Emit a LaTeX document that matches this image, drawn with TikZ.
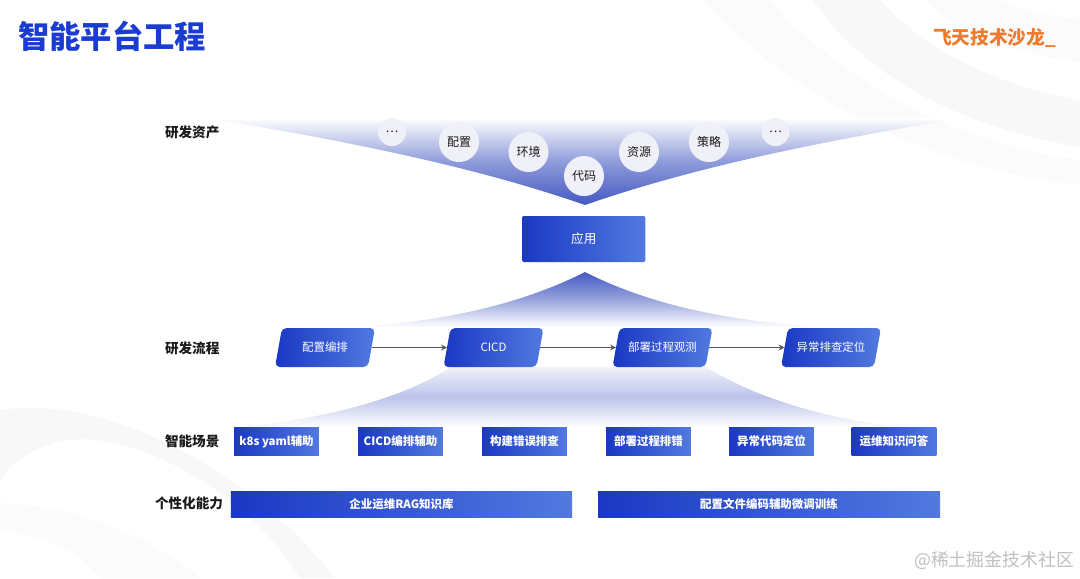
\documentclass[tikz,border=0pt]{standalone}
\usepackage{fontspec}
\setmainfont{Noto Sans CJK SC}
\definecolor{brandblue}{HTML}{1A38C4}
\definecolor{brandlight}{HTML}{5279E0}
\definecolor{funnelblue}{HTML}{4459C2}
\definecolor{titleblue}{HTML}{1A3CD0}
\definecolor{logoorange}{HTML}{EE7A2E}
\definecolor{labelink}{HTML}{1A1A1A}
\definecolor{flowgrey}{HTML}{555555}
\definecolor{bubblefill}{HTML}{F0F1F8}
\definecolor{swooshgrey}{HTML}{FBFBFB}
\definecolor{swooshdark}{HTML}{F8F8F8}

\begin{document}
\begin{tikzpicture}[x=0.75pt, y=-0.75pt, >=stealth,
    every node/.style={inner sep=0pt, outer sep=0pt},
    rowlabel/.style={text=labelink, font=\fontsize{10.2}{12}\selectfont\bfseries},
    bubble/.style={circle, fill=bubblefill, text=labelink, minimum size=30pt, font=\fontsize{9}{11}\selectfont},
    smallbubble/.style={bubble, minimum size=21pt},
    bluebox/.style={left color=brandblue, right color=brandlight, text=white, text height=6.6pt, text depth=0pt,
      font=\fontsize{8.6}{11}\selectfont\bfseries},
    appbox/.style={bluebox, rounded corners=1.5pt, minimum width=92.6pt, minimum height=34.5pt, font=\fontsize{9.5}{11}\selectfont},
    flowshape/.style={left color=brandblue, right color=brandlight, rounded corners=3.5pt},
    flowbox/.style={text=white, text height=6.6pt, text depth=0pt, minimum width=69.75pt, minimum height=29.2pt,
      font=\fontsize{8.6}{11}\selectfont},
    scenebox/.style={bluebox, minimum width=63.5pt, minimum height=21pt},
    abilitybox/.style={bluebox, minimum height=20.2pt},
    flowline/.style={flowgrey, line width=1pt, ->}]

  \useasboundingbox (0,0) rectangle (1080,578);

  %% background swooshes
  \fill[swooshgrey] (703,0) .. controls (770,75) and (900,165) .. (1080,185) -- (1080,160)
    .. controls (930,140) and (820,60) .. (770,0) -- cycle;
  \fill[swooshdark] (813,0) .. controls (860,70) and (950,125) .. (1080,147) -- (1080,100)
    .. controls (990,85) and (920,45) .. (880,0) -- cycle;
  \fill[swooshgrey] (925,0) .. controls (960,35) and (1020,55) .. (1080,62) -- (1080,20)
    .. controls (1050,15) and (1020,10) .. (1000,0) -- cycle;
  \fill[swooshdark] (0,410) .. controls (100,395) and (240,460) .. (335,578) -- (300,578)
    .. controls (240,480) and (110,420) .. (50,445) .. controls (30,450) and (10,465) .. (0,480) -- cycle;
  \fill[swooshgrey] (0,503) .. controls (70,505) and (150,535) .. (200,578) -- (100,578)
    .. controls (80,550) and (40,535) .. (0,530) -- cycle;

  %% title and logo
  \node[text=titleblue, font=\fontsize{23.5}{26}\selectfont\bfseries, anchor=west] (title) at (18,36) {智能平台工程};
  \node[text=logoorange, font=\fontsize{14}{16}\selectfont\bfseries, anchor=west] (logo) at (933,38) {飞天技术沙龙\_};
  \node[text=gray!50, font=\fontsize{13.4}{15}\selectfont, anchor=east] (mark) at (1074,560) {@稀土掘金技术社区};

  %% funnels
  \shade[top color=white, bottom color=funnelblue, middle color=funnelblue!60]
    (208,118) .. controls (340,140) and (470,165) .. (585,205)
    .. controls (700,165) and (830,140) .. (962,118) -- cycle;
  \shade[top color=funnelblue, bottom color=white, middle color=funnelblue!55]
    (585,272) .. controls (520,305) and (440,322) .. (354,327) -- (828,327)
    .. controls (730,322) and (650,305) .. (585,272) -- cycle;
  \shade[top color=funnelblue!8, bottom color=white, middle color=funnelblue!36]
    (451,367) .. controls (400,400) and (320,420) .. (237,427) -- (905,427)
    .. controls (830,420) and (760,400) .. (706,367) -- cycle;

  %% row labels
  \node[rowlabel, anchor=west] (assetlabel) at (165,132) {研发资产};
  \node[rowlabel, anchor=west] (flowlabel) at (165,348) {研发流程};
  \node[rowlabel, anchor=west] (scenelabel) at (165,441) {智能场景};
  \node[rowlabel, anchor=west] (abilitylabel) at (155,503) {个性化能力};

  %% assets
  \node[smallbubble] (etcleft) at (392,132) {…};
  \node[bubble] (config) at (459,142) {配置};
  \node[bubble] (env) at (528.5,152) {环境};
  \node[bubble] (code) at (584,176) {代码};
  \node[bubble] (resource) at (639,152) {资源};
  \node[bubble] (policy) at (709,142) {策略};
  \node[smallbubble] (etcright) at (775.5,132) {…};

  \node[appbox] (app) at (583.75,239) {应用};

  %% flow
  \foreach \cx in {325,493.5,662.5,831}
    \shade[flowshape] (\cx-50,367) -- (\cx-43,328) -- (\cx+50,328) -- (\cx+43,367) -- cycle;
  \node[flowbox] (orchestrate) at (325,347.5) {配置编排};
  \node[flowbox] (cicd) at (493.5,347.5) {CICD};
  \node[flowbox] (observe) at (662.5,347.5) {部署过程观测};
  \node[flowbox] (locate) at (831,347.5) {异常排查定位};
  \draw[flowline] (orchestrate) -- (cicd);
  \draw[flowline] (cicd) -- (observe);
  \draw[flowline] (observe) -- (locate);

  %% scenes
  \node[scenebox] (yamlhelp) at (276.5,441) {k8s yaml辅助};
  \node[scenebox] (cicdhelp) at (400.5,441) {CICD编排辅助};
  \node[scenebox] (builderr) at (524.5,441) {构建错误排查};
  \node[scenebox] (deployerr) at (648.5,441) {部署过程排错};
  \node[scenebox] (codeerr) at (771.5,441) {异常代码定位};
  \node[scenebox] (opsqa) at (894,441) {运维知识问答};

  %% abilities
  \node[abilitybox, minimum width=256pt] (ragbase) at (401.5,504.5) {企业运维RAG知识库};
  \node[abilitybox, minimum width=256.5pt] (finetune) at (769,504.5) {配置文件编码辅助微调训练};

\end{tikzpicture}
\end{document}
